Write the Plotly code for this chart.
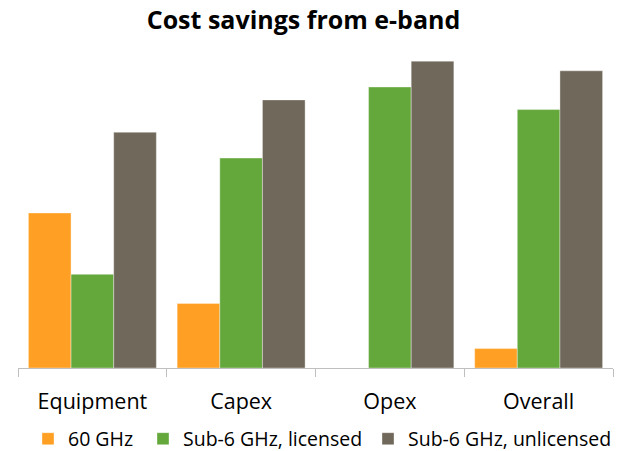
import plotly.graph_objects as go

# Savings by cost category for each alternative backhaul technology
categories = ["Equipment", "Capex", "Opex", "Overall"]
ghz60 = [48, 20, 0, 6]
sub6_licensed = [29, 65, 87, 80]
sub6_unlicensed = [73, 83, 95, 92]

series = [
    ("60 GHz", ghz60, "#FFA024", 70),
    ("Sub-6 GHz, licensed", sub6_licensed, "#64A83C", 180),
    ("Sub-6 GHz, unlicensed", sub6_unlicensed, "#70685A", 205),
]

FONT = "Open Sans"

fig = go.Figure()
for name, vals, color, lw in series:
    fig.add_trace(go.Bar(
        x=categories, y=vals, name=name, legendwidth=lw,
        marker=dict(color=color, line=dict(color="rgba(255,255,255,0.6)", width=0.6)),
    ))

fig.update_layout(
    width=628, height=451,
    margin=dict(l=18, r=15, t=45, b=83, autoexpand=False),
    paper_bgcolor="white", plot_bgcolor="white",
    barmode="group", bargap=0.14, bargroupgap=0,
    font=dict(family=FONT, color="#000000"),
    title=dict(
        text="<b>Cost savings from e-band</b>",
        x=303.5 / 628, xanchor="center", xref="container",
        y=1 - 20 / 451, yanchor="middle", yref="container",
        font=dict(size=25, family=FONT, color="#000000"),
    ),
    xaxis=dict(
        range=[-0.5, 3.5], showline=True, linecolor="#BFBFBF", linewidth=1,
        ticks="outside", tickson="boundaries", ticklen=8, tickcolor="#BFBFBF",
        tickfont=dict(size=21.5, family=FONT, color="#000000"),
        ticklabelstandoff=14, showgrid=False, fixedrange=True,
    ),
    yaxis=dict(range=[0, 100], visible=False, showgrid=False, zeroline=False),
    showlegend=True,
    legend=dict(
        orientation="h", xref="container", x=28 / 628, xanchor="left",
        yref="container", y=1 - 439 / 451, yanchor="middle",
        font=dict(size=19.5, family=FONT, color="#000000"),
        itemwidth=30, traceorder="normal", bgcolor="rgba(0,0,0,0)",
    ),
)

fig.write_html("out.html")
